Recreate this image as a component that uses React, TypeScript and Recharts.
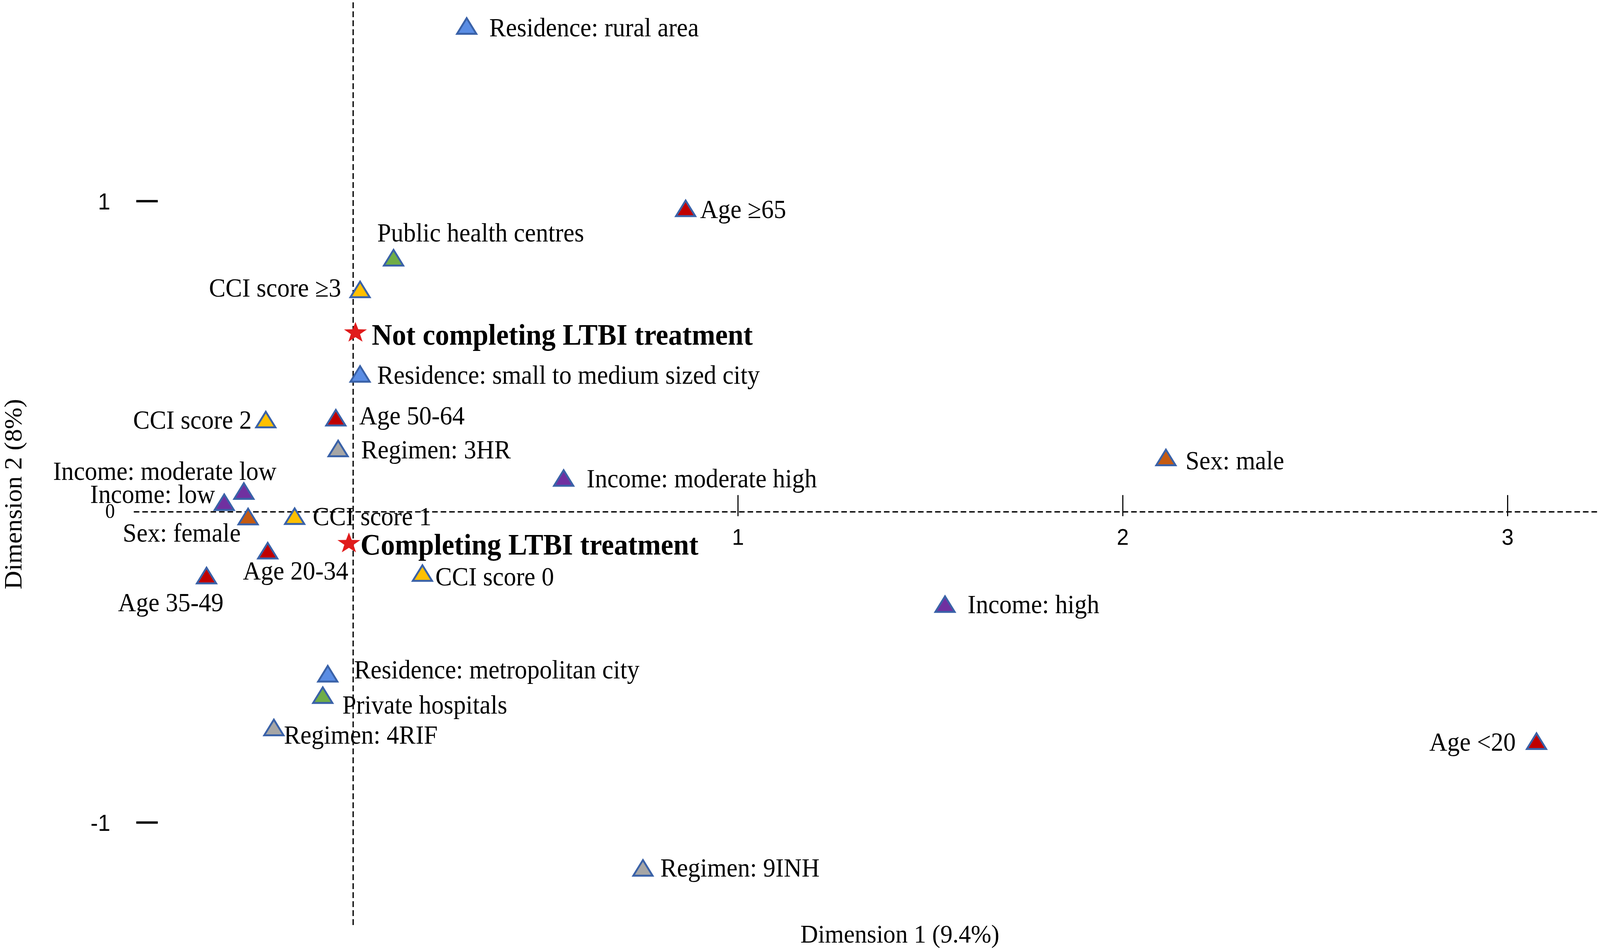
import { useEffect, useState } from "react";
import { ReferenceLine, Scatter, ScatterChart, XAxis, YAxis } from "recharts";

// category labels, dimension 1 / dimension 2 coordinates and variable group
const categories = [
  "Residence: rural area",
  "Age ≥65",
  "Public health centres",
  "CCI score ≥3",
  "Not completing LTBI treatment",
  "Residence: small to medium sized city",
  "CCI score 2",
  "Age 50-64",
  "Regimen: 3HR",
  "Income: moderate high",
  "Sex: male",
  "Income: moderate low",
  "Income: low",
  "Sex: female",
  "CCI score 1",
  "Completing LTBI treatment",
  "Age 20-34",
  "Age 35-49",
  "CCI score 0",
  "Income: high",
  "Residence: metropolitan city",
  "Private hospitals",
  "Regimen: 4RIF",
  "Age <20",
  "Regimen: 9INH",
];

const dim1 = [
  0.295, 0.864, 0.105, 0.018, 0.006, 0.018, -0.227, -0.045, -0.039, 0.547, 2.112, -0.284, -0.335,
  -0.273, -0.152, -0.011, -0.222, -0.381, 0.18, 1.538, -0.066, -0.079, -0.206, 3.075, 0.753,
];

const dim2 = [
  1.564, 0.977, 0.818, 0.716, 0.58, 0.444, 0.297, 0.303, 0.204, 0.109, 0.175, 0.067, 0.031,
  -0.015, -0.014, -0.098, -0.125, -0.205, -0.197, -0.297, -0.521, -0.59, -0.694, -0.738, -1.146,
];

const groups = [
  "Residence", "Age", "Facility", "CCI", "Outcome", "Residence", "CCI", "Age", "Regimen", "Income",
  "Sex", "Income", "Income", "Sex", "CCI", "Outcome", "Age", "Age", "CCI", "Income", "Residence",
  "Facility", "Regimen", "Age", "Regimen",
];

const groupOrder = ["Residence", "Age", "Facility", "CCI", "Regimen", "Income", "Sex", "Outcome"];

const xTicks = [1, 2, 3];
const yTicks = [1, -1];

const groupColors: Record<string, string> = {
  Residence: "#5a8de4",
  Age: "#c00000",
  Facility: "#70ad47",
  CCI: "#ffc000",
  Regimen: "#a6a6a6",
  Income: "#7030a0",
  Sex: "#c55a11",
  Outcome: "#e01b1b",
};

// label offsets (px) from the marker centre
const labelPlace: Record<string, { dx: number; dy: number; anchor: "start" | "end" }> = {
  "Residence: rural area": { dx: 61, dy: 4, anchor: "start" },
  "Age ≥65": { dx: 39, dy: 2, anchor: "start" },
  "Public health centres": { dx: -44, dy: -64, anchor: "start" },
  "CCI score ≥3": { dx: -51, dy: -4, anchor: "end" },
  "Not completing LTBI treatment": { dx: 44, dy: 8, anchor: "start" },
  "Residence: small to medium sized city": { dx: 46, dy: 3, anchor: "start" },
  "CCI score 2": { dx: -38, dy: 1, anchor: "end" },
  "Age 50-64": { dx: 63, dy: -5, anchor: "start" },
  "Regimen: 3HR": { dx: 62, dy: 3, anchor: "start" },
  "Income: moderate high": { dx: 62, dy: 1, anchor: "start" },
  "Sex: male": { dx: 53, dy: 8, anchor: "start" },
  "Income: moderate low": { dx: 88, dy: -51, anchor: "end" },
  "Income: low": { dx: -25, dy: -21, anchor: "end" },
  "Sex: female": { dx: -20, dy: 42, anchor: "end" },
  "CCI score 1": { dx: 49, dy: 1, anchor: "start" },
  "Completing LTBI treatment": { dx: 31, dy: 6, anchor: "start" },
  "Age 20-34": { dx: -67, dy: 51, anchor: "start" },
  "Age 35-49": { dx: 46, dy: 69, anchor: "end" },
  "CCI score 0": { dx: 35, dy: 9, anchor: "start" },
  "Income: high": { dx: 61, dy: 1, anchor: "start" },
  "Residence: metropolitan city": { dx: 71, dy: -10, anchor: "start" },
  "Private hospitals": { dx: 53, dy: 25, anchor: "start" },
  "Regimen: 4RIF": { dx: 27, dy: 19, anchor: "start" },
  "Age <20": { dx: -56, dy: 2, anchor: "end" },
  "Regimen: 9INH": { dx: 47, dy: 0, anchor: "start" },
};

const points = categories.map((name, i) => ({ name, x: dim1[i], y: dim2[i], group: groups[i] }));

const W = 4317;
const H = 2436;
const SERIF = "'Liberation Serif', 'Times New Roman', serif";
const SANS = "'Liberation Sans', Arial, sans-serif";

function starPath(cx: number, cy: number, R: number, kx: number) {
  const r = R * 0.4;
  const pts: string[] = [];
  for (let k = 0; k < 10; k++) {
    const a = -Math.PI / 2 + (k * Math.PI) / 5;
    const rad = k % 2 === 0 ? R : r;
    pts.push(`${cx + Math.cos(a) * rad * kx},${cy + 3 + Math.sin(a) * rad}`);
  }
  return `M${pts.join("L")}Z`;
}

function Marker(props: any) {
  const { cx, cy, payload, fill } = props;
  if (cx == null || cy == null) return null;
  const place = labelPlace[payload.name] || { dx: 40, dy: 0, anchor: "start" };
  const isStar = payload.group === "Outcome";
  const w = 52;
  const h = 40;
  return (
    <g>
      {isStar ? (
        <path d={starPath(cx, cy, 28, 1.16)} fill={fill} />
      ) : (
        <path
          d={`M${cx},${cy - h / 2}L${cx + w / 2},${cy + h / 2}L${cx - w / 2},${cy + h / 2}Z`}
          fill={fill}
          stroke="#3a62a8"
          strokeWidth={5}
          strokeLinejoin="miter"
        />
      )}
      <text
        x={cx + place.dx}
        y={cy + place.dy}
        textAnchor={place.anchor}
        dominantBaseline="central"
        fontFamily={SERIF}
        fontSize={isStar ? 76 : 67}
        fontWeight={isStar ? "bold" : "normal"}
        fill="#000"
      >
        {payload.name}
      </text>
    </g>
  );
}

export default function App() {
  // the browser viewport can be narrower than the chart, so fit the chart into it
  const [vp, setVp] = useState({ w: window.innerWidth, h: window.innerHeight });
  useEffect(() => {
    const onResize = () => setVp({ w: window.innerWidth, h: window.innerHeight });
    window.addEventListener("resize", onResize);
    return () => window.removeEventListener("resize", onResize);
  }, []);
  const sx = vp.w / W;
  const sy = vp.h / H;

  return (
    <div style={{ width: vp.w, height: vp.h, overflow: "hidden", position: "relative" }}>
      <style>{`html,body{margin:0;padding:0;background:#fff;overflow:hidden}`}</style>
      <div style={{ width: W, height: H, transform: `scale(${sx}, ${sy})`, transformOrigin: "0 0" }}>
        <ScatterChart width={W} height={H} margin={{ top: 2, right: 0, bottom: 0, left: 0 }}>
          <XAxis
            type="number"
            dataKey="x"
            domain={[-0.57, 3.24]}
            tick={false}
            tickLine={false}
            axisLine={false}
            height={69}
            label={{
              content: (p: any) => {
                const vb = p.viewBox;
                return (
                  <text
                    x={vb.x + vb.width / 2 + 89}
                    y={vb.y + 45}
                    textAnchor="middle"
                    fontFamily={SERIF}
                    fontSize={66}
                    fill="#000"
                  >
                    Dimension 1 (9.4%)
                  </text>
                );
              },
            }}
          />
          <YAxis
            type="number"
            dataKey="y"
            domain={[-1.33, 1.645]}
            tick={false}
            tickLine={false}
            axisLine={false}
            width={361}
            label={{
              content: (p: any) => {
                const vb = p.viewBox;
                const cx = vb.x + 36;
                const cy = vb.y + vb.height / 2 + 80;
                return (
                  <text
                    x={cx}
                    y={cy}
                    transform={`rotate(-90, ${cx}, ${cy})`}
                    textAnchor="middle"
                    dominantBaseline="central"
                    fontFamily={SERIF}
                    fontSize={66}
                    fill="#000"
                  >
                    Dimension 2 (8%)
                  </text>
                );
              },
            }}
          />
          <ReferenceLine x={0} stroke="#000" strokeWidth={3.5} strokeDasharray="15 8" />
          <ReferenceLine
            y={0}
            stroke="#000"
            strokeWidth={3.5}
            strokeDasharray="15 8"
            label={{
              content: (p: any) => {
                const vb = p.viewBox;
                return (
                  <text
                    x={vb.x - 51}
                    y={vb.y - 2}
                    textAnchor="end"
                    dominantBaseline="central"
                    fontFamily={SERIF}
                    fontSize={52}
                    fill="#000"
                  >
                    0
                  </text>
                );
              },
            }}
          />
          {xTicks.map((t) => (
            <ReferenceLine
              key={`xt${t}`}
              segment={[
                { x: t, y: 0.054 },
                { x: t, y: -0.014 },
              ]}
              stroke="#000"
              strokeWidth={3}
              label={{ value: String(t), position: "bottom", offset: 32, fontSize: 58, fontFamily: SANS, fill: "#000" }}
            />
          ))}
          {yTicks.map((t) => (
            <ReferenceLine
              key={`yt${t}`}
              segment={[
                { x: -0.5636, y: t },
                { x: -0.5077, y: t },
              ]}
              stroke="#000"
              strokeWidth={6}
              label={{ value: String(t), position: "left", offset: 70, fontSize: 60, fontFamily: SANS, fill: "#000" }}
            />
          ))}
          {groupOrder.map((g) => (
            <Scatter
              key={g}
              name={g}
              data={points.filter((p) => p.group === g)}
              fill={groupColors[g]}
              shape={Marker}
              isAnimationActive={false}
            />
          ))}
        </ScatterChart>
      </div>
    </div>
  );
}
